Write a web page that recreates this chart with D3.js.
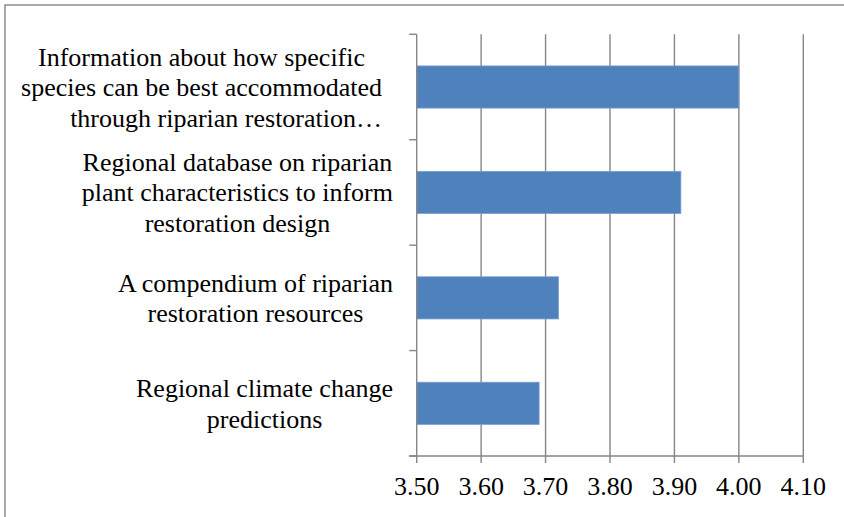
<!DOCTYPE html>
<html>
<head>
<meta charset="utf-8">
<script src="https://cdn.jsdelivr.net/npm/d3@7"></script>
<style>
  html, body { margin: 0; padding: 0; background: #fff; }
  svg { display: block; }
</style>
</head>
<body>
<svg id="chart" width="844" height="517" style="font-family: 'Liberation Serif'"></svg>
<script>
// Category labels (wrapped lines), top to bottom
const categories = [
  ["Information about how specific", "species can be best accommodated", "through riparian restoration\u2026"],
  ["Regional database on riparian", "plant characteristics to inform", "restoration design"],
  ["A compendium of riparian", "restoration resources"],
  ["Regional climate change", "predictions"]
];
// Mean rating for each category
const values = [4.00, 3.91, 3.72, 3.69];
// Value axis ticks
const tickValues = [3.50, 3.60, 3.70, 3.80, 3.90, 4.00, 4.10];

const FONT = "Liberation Serif";
const FS = 25;       // font size
const SX = 1.04;     // slight horizontal widening of the serif face

const svg = d3.select("#chart");
const x0 = 416.7, x1 = 803.3;
const y0 = 34.3, y1 = 456;
const gridColor = "#868686";

// Chart frame
svg.append("rect")
  .attr("x", 5).attr("y", 5)
  .attr("width", 1000).attr("height", 1000)
  .attr("fill", "none").attr("stroke", gridColor).attr("stroke-width", 1.4);

const x = d3.scaleLinear().domain([3.5, 4.1]).range([x0, x1]);
const y = d3.scaleBand().domain(d3.range(categories.length)).range([y0, y1])
  .paddingInner(0.6).paddingOuter(0.3);

// Vertical gridlines
svg.append("g").selectAll("line")
  .data(tickValues.slice(1))
  .join("line")
  .attr("x1", d => x(d)).attr("x2", d => x(d))
  .attr("y1", y0).attr("y2", y1)
  .attr("stroke", gridColor).attr("stroke-width", 1.4);

// Bars
svg.append("g").selectAll("rect")
  .data(values)
  .join("rect")
  .attr("x", x(3.5))
  .attr("y", (d, i) => y(i))
  .attr("width", d => x(d) - x(3.5))
  .attr("height", y.bandwidth())
  .attr("fill", "#4F81BD")
  .attr("stroke", "#7A9FD0")
  .attr("stroke-width", 0.8);

// Bottom value axis: baseline plus downward ticks
const gx = svg.append("g");
gx.append("line")
  .attr("x1", x0 - 7.5).attr("x2", x1)
  .attr("y1", y1).attr("y2", y1)
  .attr("stroke", gridColor).attr("stroke-width", 1.4);
gx.selectAll("line.tk")
  .data(tickValues)
  .join("line")
  .attr("class", "tk")
  .attr("x1", d => x(d)).attr("x2", d => x(d))
  .attr("y1", y1).attr("y2", y1 + 7)
  .attr("stroke", gridColor).attr("stroke-width", 1.4);

// Tick labels
const fmt = d3.format(".2f");
gx.selectAll("text")
  .data(tickValues)
  .join("text")
  .attr("transform", d => `translate(${x(d)},495) scale(${SX},1)`)
  .attr("text-anchor", "middle")
  .attr("font-family", FONT)
  .style("font-family", FONT)
  .attr("font-size", FS)
  .attr("fill", "#000")
  .text(fmt);

// Left category axis line with ticks on band boundaries
const gy = svg.append("g");
gy.append("line")
  .attr("x1", x0).attr("x2", x0).attr("y1", y0).attr("y2", y1)
  .attr("stroke", gridColor).attr("stroke-width", 1.4);
const step = (y1 - y0) / categories.length;
gy.selectAll("line.tk")
  .data(d3.range(categories.length + 1))
  .join("line")
  .attr("class", "tk")
  .attr("x1", x0 - 7.5).attr("x2", x0)
  .attr("y1", i => y0 + i * step).attr("y2", i => y0 + i * step)
  .attr("stroke", gridColor).attr("stroke-width", 1.4);

// Category labels: wrapped lines centred as a block, right edge near the axis
const labelRight = 393;
const lineH = 30.5;
const labels = svg.append("g");
categories.forEach((lines, i) => {
  const cy = y(i) + y.bandwidth() / 2;
  const n = lines.length;
  const texts = lines.map((s, j) => labels.append("text")
    .attr("font-family", FONT)
    .style("font-family", FONT)
    .attr("font-size", FS)
    .attr("fill", "#000")
    .text(s));
  const widths = texts.map(t => t.node().getComputedTextLength() * SX);
  const maxW = d3.max(widths);
  const right = i === 0 ? 382 : labelRight;
  const cx = right - maxW / 2;
  texts.forEach((t, j) => {
    const by = cy + 9 + (j - (n - 1) / 2) * lineH;
    if (lines[j].endsWith("\u2026")) {
      t.attr("text-anchor", "end").attr("transform", `translate(${right},${by}) scale(${SX},1)`);
    } else {
      t.attr("text-anchor", "middle").attr("transform", `translate(${cx},${by}) scale(${SX},1)`);
    }
  });
});
</script>
</body>
</html>
